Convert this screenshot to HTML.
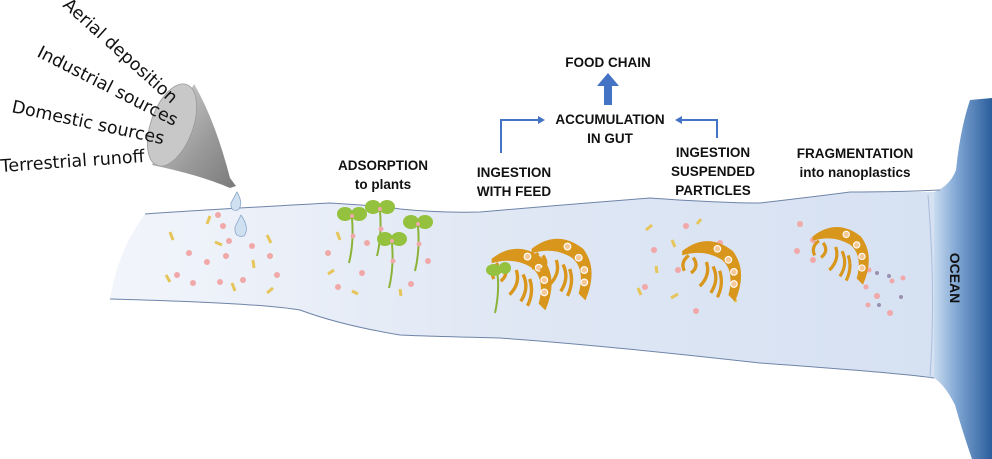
<!DOCTYPE html>
<html><head><meta charset="utf-8"><style>
html,body{margin:0;padding:0;background:#fff;}
svg{display:block;}
.lab{font-family:"Liberation Sans",sans-serif;font-weight:bold;font-size:13.5px;fill:#111;text-anchor:middle;}
.src{font-family:"DejaVu Sans","Liberation Sans",sans-serif;font-size:17.5px;fill:#111;}
</style></head><body>
<svg width="992" height="459" viewBox="0 0 992 459" xmlns="http://www.w3.org/2000/svg">
<defs>
<linearGradient id="riv" x1="0" y1="0" x2="1" y2="0">
<stop offset="0" stop-color="#f2f5fb"/><stop offset="0.5" stop-color="#dfe7f4"/><stop offset="1" stop-color="#d6e1f2"/>
</linearGradient>
<linearGradient id="oc" x1="0" y1="0" x2="1" y2="0">
<stop offset="0" stop-color="#c9dbef"/><stop offset="0.4" stop-color="#7fa6d3"/><stop offset="1" stop-color="#2b5d9c"/>
</linearGradient>
<linearGradient id="fun" x1="0" y1="0" x2="1" y2="1">
<stop offset="0" stop-color="#d8d8d8"/><stop offset="0.6" stop-color="#9a9a9a"/><stop offset="1" stop-color="#7a7a7a"/>
</linearGradient>
<g id="shrimp">
<path d="M-28,-10 Q-5,-28 18,-10 Q32,8 20,36 L14,30 Q20,8 8,-2 Q-8,-12 -28,-6 Z" fill="#d9961c"/>
<path d="M-22,-6 Q-30,0 -26,8 M-18,-4 Q-12,4 -20,10 M-6,0 Q-2,12 -12,22 M0,4 Q6,16 -2,28 M6,8 Q10,20 4,32" stroke="#d9961c" stroke-width="3" fill="none"/>
<circle cx="4" cy="-12" r="3" fill="#f5c99a" stroke="#fff" stroke-width="1"/>
<circle cx="14" cy="-2" r="3" fill="#f5c99a" stroke="#fff" stroke-width="1"/>
<circle cx="19" cy="9" r="3" fill="#f5c99a" stroke="#fff" stroke-width="1"/>
<circle cx="19" cy="20" r="3" fill="#f5c99a" stroke="#fff" stroke-width="1"/>
</g>
<g id="plant">
<path d="M0,0 Q2,25 -3,45" stroke="#8bb33a" stroke-width="2" fill="none"/>
<ellipse cx="-7" cy="-4" rx="8" ry="7" fill="#94c13e"/>
<ellipse cx="7" cy="-4" rx="8" ry="7" fill="#94c13e"/>
<circle cx="0" cy="-2" r="2" fill="#f0a8a8"/>
<circle cx="1" cy="18" r="2.5" fill="#f0a8a8"/>
</g>
</defs>

<path d="M970,100 L992,98 L992,459 L972,459 Q962,430 955,405 Q945,385 934,378 L934,192 Q950,186 956,170 Q960,130 970,100 Z" fill="url(#oc)"/>
<path d="M145,214 Q200,210 330,203 Q380,206 400,209 Q440,213 480,212 Q560,205 650,198 Q720,203 760,203 Q820,196 850,192 Q900,192 934,192 L934,378 Q900,373 760,363 Q600,345 500,338 Q420,336 400,335 Q340,325 300,310 Q260,303 110,299 Q118,250 145,214 Z" fill="url(#riv)"/>
<path d="M145,214 Q200,210 330,203 Q380,206 400,209 Q440,213 480,212 Q560,205 650,198 Q720,203 760,203 Q820,196 850,192 Q900,192 940,190" fill="none" stroke="#6f84a8" stroke-width="1"/>
<path d="M110,299 Q260,303 300,310 Q340,325 400,335 Q420,336 500,338 Q600,345 760,363 Q900,373 934,378" fill="none" stroke="#6f84a8" stroke-width="1"/>
<path d="M928,195 Q936,290 930,378" fill="none" stroke="#a9bddb" stroke-width="1"/>
<text x="0" y="0" transform="translate(950,278) rotate(90)" class="lab" style="font-size:14px">OCEAN</text>

<path d="M194,84 Q215,120 230,178 L236,186 L230,188 Q200,175 152,165 Z" fill="url(#fun)"/>
<ellipse cx="172" cy="125" rx="21" ry="43" transform="rotate(20 172 125)" fill="#c8c8c8" stroke="#999" stroke-width="0.8"/>
<path d="M237,192 Q244,204 238,210 Q230,212 231,203 Z" fill="#cfe0f0" stroke="#8aa6c8" stroke-width="0.8"/>
<path d="M241,215 Q250,228 244,236 Q234,238 235,227 Z" fill="#cfe0f0" stroke="#8aa6c8" stroke-width="0.8"/>

<text class="src" transform="translate(62,6) rotate(42)">Aerial deposition</text>
<text class="src" transform="translate(36,56) rotate(27)">Industrial sources</text>
<text class="src" transform="translate(11,112) rotate(12)">Domestic sources</text>
<text class="src" transform="translate(1,172) rotate(-4)">Terrestrial runoff</text>

<text class="lab" x="608" y="67">FOOD CHAIN</text>
<path d="M604,105 L604,86 L597,86 L608,73 L619,86 L612,86 L612,105 Z" fill="#4472c4"/>
<text class="lab" x="610" y="124">ACCUMULATION</text>
<text class="lab" x="610" y="143">IN GUT</text>
<path d="M501,153 L501,120 L541,120" fill="none" stroke="#4472c4" stroke-width="2"/>
<path d="M545,120 L538,116 L538,124 Z" fill="#4472c4"/>
<path d="M717,138 L717,120 L680,120" fill="none" stroke="#4472c4" stroke-width="2"/>
<path d="M675,120 L682,116 L682,124 Z" fill="#4472c4"/>
<text class="lab" x="383" y="170">ADSORPTION</text>
<text class="lab" x="383" y="189">to plants</text>
<text class="lab" x="514" y="177">INGESTION</text>
<text class="lab" x="514" y="196">WITH FEED</text>
<text class="lab" x="713" y="157">INGESTION</text>
<text class="lab" x="713" y="176">SUSPENDED</text>
<text class="lab" x="713" y="195">PARTICLES</text>
<text class="lab" x="855" y="158">FRAGMENTATION</text>
<text class="lab" x="855" y="177">into nanoplastics</text>

<g fill="#f0a8a8">
<circle cx="218" cy="215" r="3"/><circle cx="223" cy="226" r="3"/><circle cx="229" cy="241" r="3"/><circle cx="252" cy="246" r="3"/><circle cx="189" cy="253" r="3"/><circle cx="207" cy="262" r="3"/><circle cx="226" cy="256" r="3"/><circle cx="270" cy="256" r="3"/><circle cx="277" cy="275" r="3"/><circle cx="177" cy="275" r="3"/><circle cx="193" cy="283" r="3"/><circle cx="220" cy="282" r="3"/><circle cx="243" cy="280" r="3"/>
<circle cx="328" cy="253" r="3"/><circle cx="367" cy="243" r="3"/><circle cx="362" cy="273" r="3"/><circle cx="338" cy="287" r="3"/><circle cx="411" cy="284" r="3"/><circle cx="428" cy="261" r="3"/>
<circle cx="686" cy="226" r="3"/><circle cx="720" cy="243" r="3"/><circle cx="654" cy="250" r="3"/><circle cx="678" cy="270" r="3"/><circle cx="645" cy="287" r="3"/><circle cx="733" cy="277" r="3"/><circle cx="696" cy="311" r="3"/>
<circle cx="800" cy="224" r="3"/><circle cx="813" cy="240" r="3"/><circle cx="797" cy="251" r="3"/><circle cx="813" cy="260" r="3"/><circle cx="869" cy="270" r="2.5"/><circle cx="866" cy="287" r="2.5"/><circle cx="877" cy="296" r="3"/><circle cx="892" cy="281" r="2.5"/><circle cx="868" cy="305" r="2.5"/><circle cx="890" cy="313" r="3"/><circle cx="903" cy="278" r="2.5"/>
</g>
<g fill="#9a90b0"><circle cx="877" cy="273" r="2"/><circle cx="889" cy="276" r="2"/><circle cx="879" cy="305" r="2"/><circle cx="901" cy="297" r="2"/></g>
<g stroke="#e6c55a" stroke-width="3">
<line x1="170" y1="232" x2="173" y2="240"/><line x1="207" y1="224" x2="210" y2="216"/><line x1="215" y1="242" x2="222" y2="245"/><line x1="267" y1="235" x2="271" y2="243"/><line x1="253" y1="260" x2="254" y2="268"/><line x1="166" y1="275" x2="170" y2="282"/><line x1="232" y1="283" x2="235" y2="291"/><line x1="267" y1="293" x2="273" y2="288"/>
<line x1="337" y1="232" x2="340" y2="240"/><line x1="328" y1="274" x2="334" y2="270"/><line x1="352" y1="291" x2="358" y2="294"/><line x1="400" y1="289" x2="401" y2="296"/>
<line x1="646" y1="230" x2="652" y2="225"/><line x1="697" y1="224" x2="701" y2="219"/><line x1="672" y1="240" x2="675" y2="247"/><line x1="656" y1="266" x2="657" y2="273"/><line x1="638" y1="288" x2="641" y2="295"/><line x1="671" y1="298" x2="678" y2="294"/><line x1="733" y1="295" x2="736" y2="302"/>
</g>

<use href="#plant" transform="translate(352,218)"/>
<use href="#plant" transform="translate(380,211)"/>
<use href="#plant" transform="translate(392,243)"/>
<use href="#plant" transform="translate(418,226)"/>

<use href="#shrimp" transform="translate(523,270) scale(1.12)"/>
<use href="#shrimp" transform="translate(563,260) scale(1.12)"/>
<use href="#shrimp" transform="translate(713,262) scale(1.1)"/>
<use href="#shrimp" transform="translate(842,247) scale(1.05)"/>
<path d="M497,270 Q500,290 495,313" stroke="#8bb33a" stroke-width="2" fill="none"/>
<ellipse cx="494" cy="270" rx="8" ry="6" fill="#94c13e"/><ellipse cx="505" cy="268" rx="6" ry="6" fill="#94c13e"/>
</svg>
</body></html>
